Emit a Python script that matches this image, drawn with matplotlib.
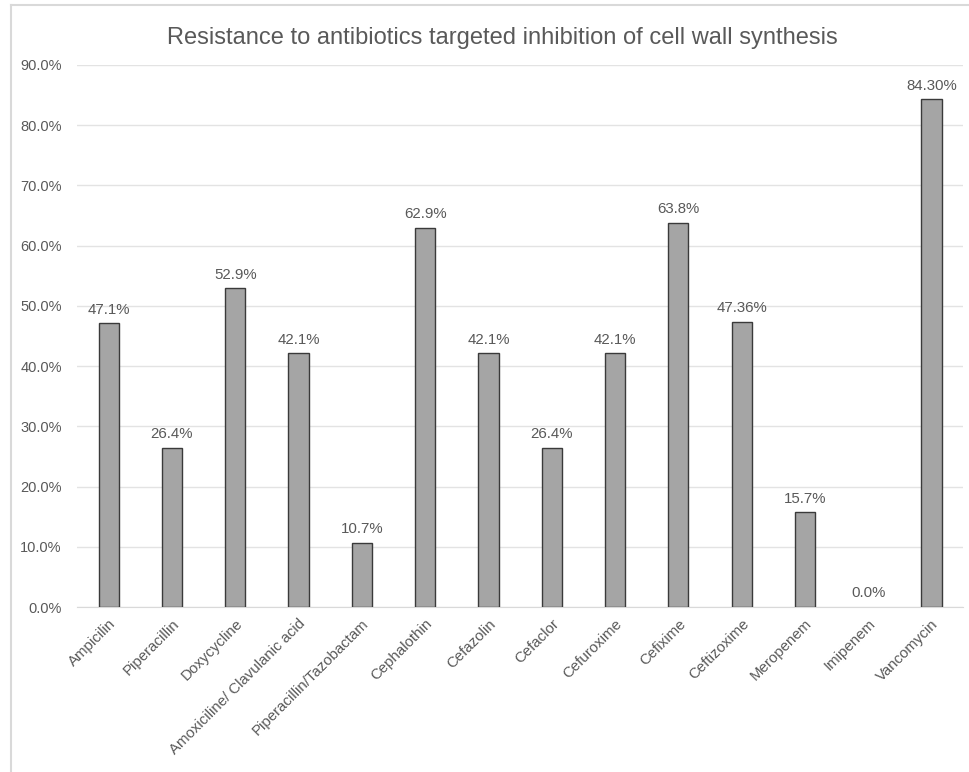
import matplotlib.pyplot as plt
from matplotlib.lines import Line2D
import numpy as np

plt.rcParams['font.family'] = ['Liberation Sans', 'DejaVu Sans']

drugs = ["Ampicilin", "Piperacillin", "Doxycycline", "Amoxiciline/ Clavulanic acid",
         "Piperacillin/Tazobactam", "Cephalothin", "Cefazolin", "Cefaclor", "Cefuroxime",
         "Cefixime", "Ceftizoxime", "Meropenem", "Imipenem", "Vancomycin"]
resist = [47.1, 26.4, 52.9, 42.1, 10.7, 62.9, 42.1, 26.4, 42.1, 63.8, 47.36, 15.7, 0.0, 84.30]
value_labels = ["47.1%", "26.4%", "52.9%", "42.1%", "10.7%", "62.9%", "42.1%", "26.4%",
                "42.1%", "63.8%", "47.36%", "15.7%", "0.0%", "84.30%"]

txt = '#595959'
fig = plt.figure(figsize=(9.69, 7.72), dpi=100)
ax = fig.add_axes([0.0795, 0.2137, 0.9145, 0.7023])

x = np.arange(len(drugs))
bars = ax.bar(x, resist, width=0.32, color='#a5a5a5', edgecolor='#3a3a3a', linewidth=1.0, zorder=3)
for b, v, lab in zip(bars, resist, value_labels):
    if v == 0:
        b.set_linewidth(0)
    ax.text(b.get_x() + b.get_width() / 2, b.get_height() + 1.1, lab,
            ha='center', va='bottom', fontsize=10.8, color=txt)

ax.set_xlim(-0.5, len(drugs) - 0.5)
ax.set_ylim(0, 90)
ax.set_yticks(np.arange(0, 91, 10))
ax.set_yticklabels([f"{v:.1f}%" for v in np.arange(0, 91, 10)], fontsize=10.5, color=txt)
ax.set_xticks(x)
ax.set_xticklabels(drugs, rotation=45, ha='right', rotation_mode='anchor', fontsize=10.8, color=txt)
ax.tick_params(axis='x', length=0, pad=7)
ax.tick_params(axis='y', length=0, pad=11)
ax.grid(axis='y', color='#e3e3e3', linewidth=1, zorder=0)
for s in ['top', 'right', 'left']:
    ax.spines[s].set_visible(False)
ax.spines['bottom'].set_color('#d9d9d9')

fig.text(0.518, 0.951, "Resistance to antibiotics targeted inhibition of cell wall synthesis",
         ha='center', va='center', fontsize=17, color=txt)

# outer chart border (left and top visible)
fig.add_artist(Line2D([0.011, 0.011], [0.0, 0.993], color='#d9d9d9', lw=1.5, transform=fig.transFigure))
fig.add_artist(Line2D([0.011, 1.0], [0.993, 0.993], color='#d9d9d9', lw=1.5, transform=fig.transFigure))

fig.savefig('out.png', dpi=100)
